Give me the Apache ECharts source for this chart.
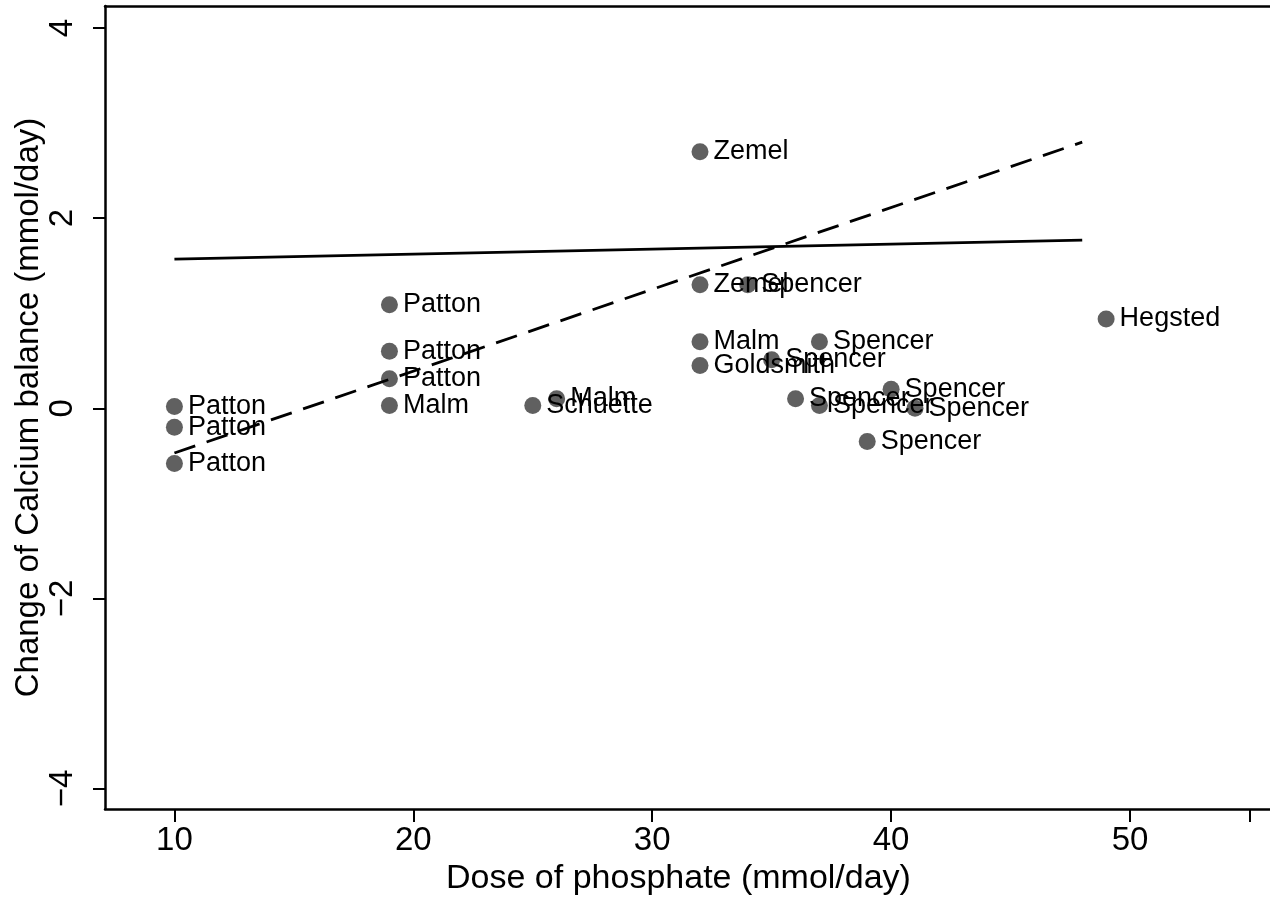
<!DOCTYPE html>
<html>
<head>
<meta charset="utf-8">
<script src="https://cdn.jsdelivr.net/npm/echarts@6/dist/echarts.min.js"></script>
<style>
html,body{margin:0;padding:0;background:#fff;}
#chart{width:1270px;height:898px;}
</style>
</head>
<body>
<div id="chart"></div>
<script>
// Study labels, dose of phosphate (mmol/day), change of calcium balance (mmol/day)
var studies = ["Patton","Patton","Patton","Patton","Patton","Patton","Malm","Schuette","Malm",
  "Zemel","Zemel","Spencer","Malm","Goldsmith","Spencer","Spencer","Spencer","Spencer",
  "Spencer","Spencer","Spencer","Hegsted"];
var doses = [10,10,10,19,19,19,19,25,26,32,32,34,32,32,35,37,36,37,40,41,39,49];
var changes = [0.02,-0.2,-0.58,1.09,0.6,0.31,0.03,0.03,0.1,2.7,1.3,1.3,0.7,0.45,0.51,0.7,0.1,0.03,0.2,0.0,-0.35,0.94];

// Fitted lines (endpoints)
var fitX = [10,48];
var fitSolid = [1.57,1.77];
var fitDashed = [-0.47,2.80];

var xTicks = [10,20,30,40,50,55];
var xTickLabels = [10,20,30,40,50];
var yTicks = [-4,-2,0,2,4];

var pts = doses.map(function(d,i){ return {value:[d,changes[i]], name:studies[i]}; });
var solidData = fitX.map(function(x,i){ return [x,fitSolid[i]]; });
var dashedData = fitX.map(function(x,i){ return [x,fitDashed[i]]; });

var font = "'Liberation Sans', Arial, Helvetica, sans-serif";
var chart = echarts.init(document.getElementById('chart'));
chart.setOption({
  animation:false,
  backgroundColor:'#fff',
  grid:{left:105, right:0, top:6, bottom:89, containLabel:false, outerBoundsMode:'none'},
  xAxis:[{
    type:'value', min:7.094, max:55.86, position:'bottom',
    splitLine:{show:false},
    axisLine:{show:true, onZero:false, lineStyle:{color:'#000', width:2.5}},
    axisTick:{show:true, length:13, lineStyle:{color:'#000', width:2}, customValues:xTicks},
    axisLabel:{show:true, margin:15, fontSize:33, color:'#000', fontFamily:font, customValues:xTickLabels,
      formatter:function(v){return String(v);}},
    name:'Dose of phosphate (mmol/day)', nameLocation:'middle', nameGap:53, nameMoveOverlap:false,
    nameTextStyle:{fontSize:34, color:'#000', fontFamily:font, padding:[0,18,0,0]}
  },{
    type:'value', min:7.094, max:55.86, position:'top',
    splitLine:{show:false},
    axisLine:{show:true, onZero:false, lineStyle:{color:'#000', width:2.5}},
    axisTick:{show:false}, axisLabel:{show:false}
  }],
  yAxis:{
    type:'value', min:-4.215, max:4.232,
    splitLine:{show:false},
    axisLine:{show:true, onZero:false, lineStyle:{color:'#000', width:2.5}},
    axisTick:{show:true, length:12, lineStyle:{color:'#000', width:2}, customValues:yTicks},
    axisLabel:{show:true, rotate:90, margin:26, fontSize:33, color:'#000', fontFamily:font, customValues:yTicks,
      formatter:function(v){return v<0 ? '\u2212'+Math.abs(v) : String(v);}},
    name:'Change of Calcium balance (mmol/day)', nameLocation:'middle', nameGap:60, nameRotate:90, nameMoveOverlap:false,
    nameTextStyle:{fontSize:33, color:'#000', fontFamily:font}
  },
  series:[{
    type:'scatter', data:pts, symbol:'circle', symbolSize:17,
    itemStyle:{color:'#606060', opacity:1},
    label:{show:true, position:'right', distance:5, formatter:'{b}', fontSize:27, color:'#000', fontFamily:font},
    z:2
  },{
    type:'line', data:solidData, symbol:'none', lineStyle:{color:'#000', width:2.8, type:'solid'}, z:3
  },{
    type:'line', data:dashedData, symbol:'none', lineStyle:{color:'#000', width:2.8, type:[22,12]}, z:3
  }]
});
</script>
</body>
</html>
